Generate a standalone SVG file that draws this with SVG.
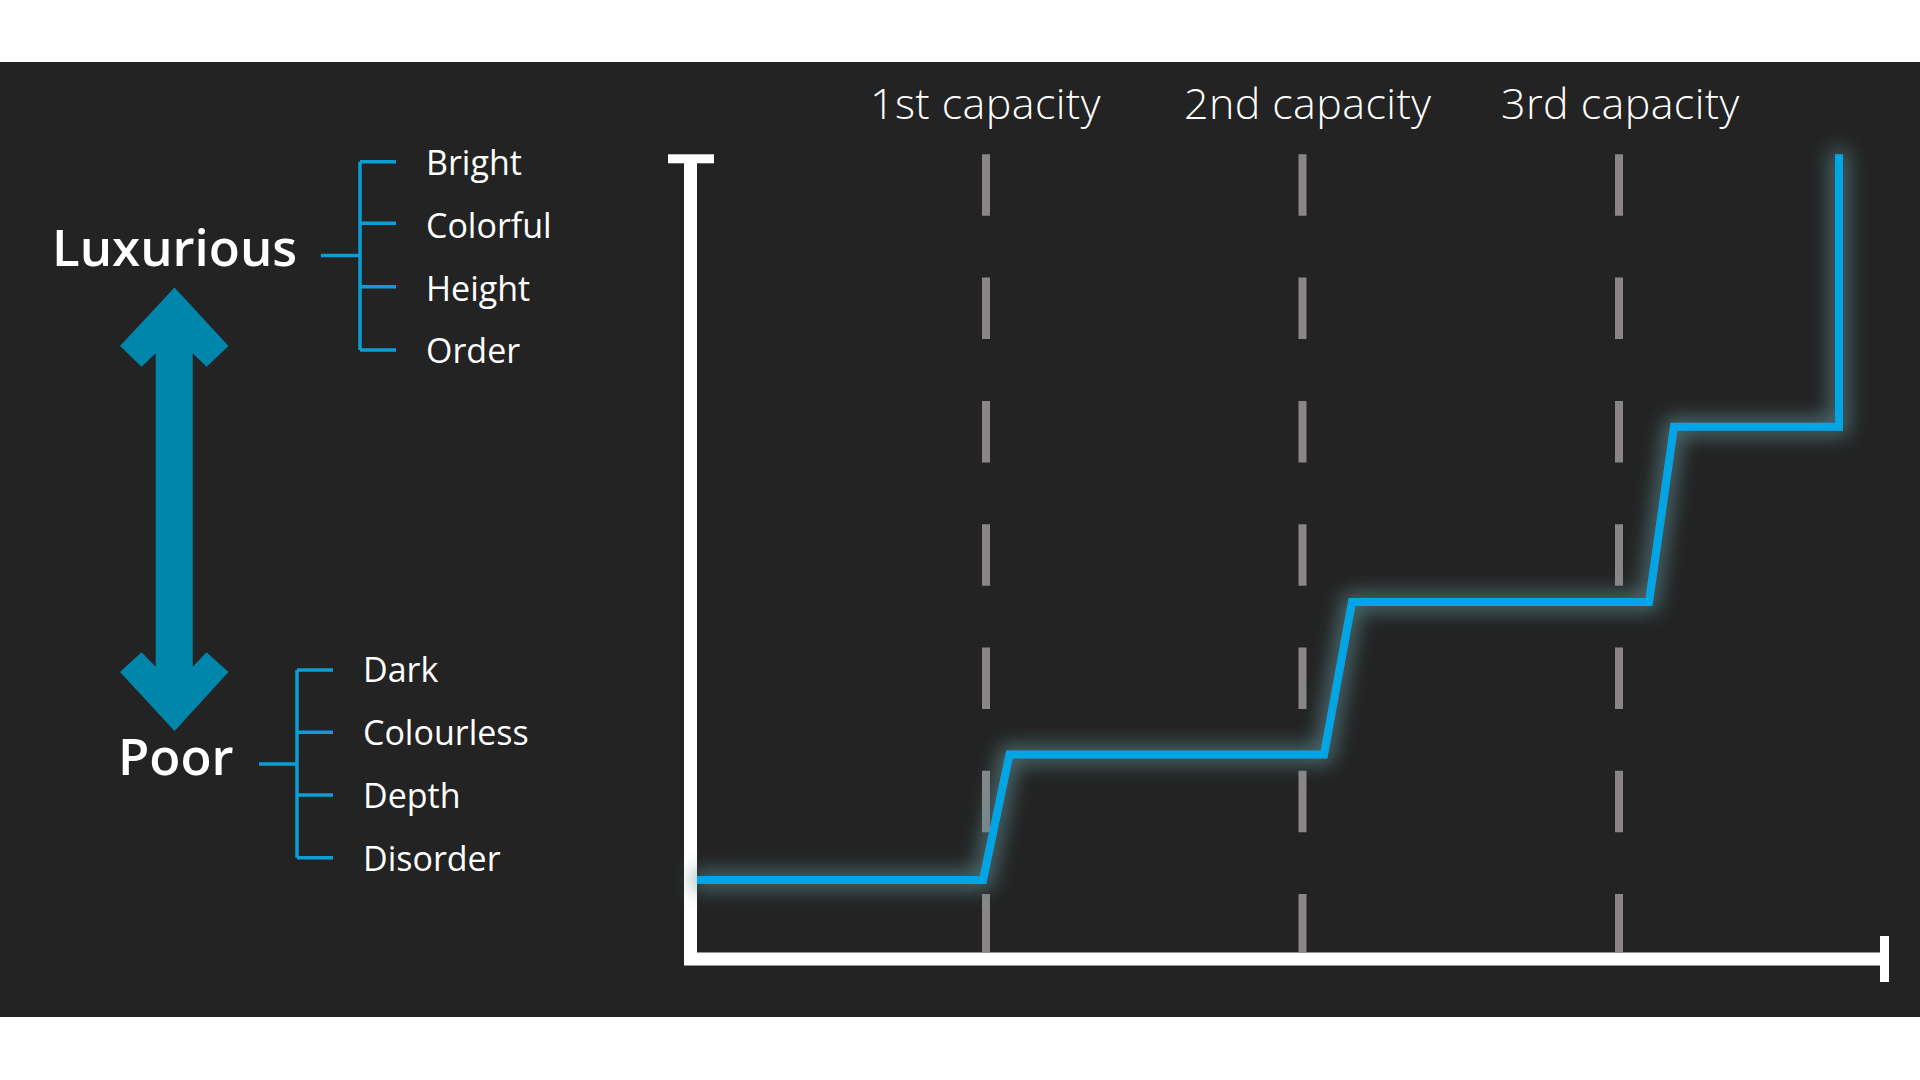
<svg xmlns="http://www.w3.org/2000/svg" width="1920" height="1080" viewBox="0 0 1920 1080">
  <defs>
    <style>
      .lbl { font-family: "Open Sans", "Noto Sans", "Liberation Sans", sans-serif; fill: #ffffff; }
      .big { font-size: 51px; font-weight: 600; }
      .item { font-size: 34px; font-weight: 400; }
      .cap { font-size: 43px; font-weight: 300; letter-spacing: 0.4px; }
      .brk { stroke: #0a9fd4; stroke-width: 3.5; fill: none; }
      .dash { stroke: #8a8686; stroke-width: 8; stroke-dasharray: 61.5 61.8; fill: none; }
      .axis { stroke: #ffffff; stroke-width: 13; fill: none; }
      .step { stroke: #00a5e6; stroke-width: 8; fill: none; stroke-linejoin: miter; }
    </style>
    <filter id="glow" x="-20%" y="-20%" width="140%" height="140%">
      <feMorphology in="SourceAlpha" operator="dilate" radius="4" result="d"/>
      <feGaussianBlur in="d" stdDeviation="10" result="b"/>
      <feFlood flood-color="#5a8a90" flood-opacity="0.8"/>
      <feComposite in2="b" operator="in" result="g"/>
      <feMerge>
        <feMergeNode in="g"/>
        <feMergeNode in="SourceGraphic"/>
      </feMerge>
    </filter>
  </defs>

  <rect x="0" y="0" width="1920" height="1080" fill="#ffffff"/>
  <rect id="panel" x="0" y="62" width="1920" height="955" fill="#232323"/>

  <g id="arrow">
    <polygon fill="#0086ab" points="174.5,287.5 228.5,346 206.5,366.7 192.7,353.3 192.7,666.7 206.5,652.3 228.5,672 174.5,731 120,672 141.5,652.3 155.7,666.7 155.7,353.3 141.5,366.7 120,346"/>
  </g>

  <g id="node-luxurious">
    <text class="lbl big" x="52" y="266">Luxurious</text>
  </g>
  <g id="node-poor">
    <text class="lbl big" x="118" y="775">Poor</text>
  </g>

  <g id="items-luxurious">
    <text class="lbl item" x="426" y="175">Bright</text>
    <text class="lbl item" x="426" y="238">Colorful</text>
    <text class="lbl item" x="426" y="301">Height</text>
    <text class="lbl item" x="426" y="363">Order</text>
  </g>
  <g id="items-poor">
    <text class="lbl item" x="363" y="682">Dark</text>
    <text class="lbl item" x="363" y="745">Colourless</text>
    <text class="lbl item" x="363" y="808">Depth</text>
    <text class="lbl item" x="363" y="871">Disorder</text>
  </g>

  <g id="connectors">
    <path class="brk" d="M321,255.5 H360 M360,161.7 V350 M360,161.7 H396 M360,223.3 H396 M360,286.7 H396 M360,350 H396"/>
    <path class="brk" d="M259,764 H297 M297,670 V857.7 M297,670 H333 M297,732.3 H333 M297,795 H333 M297,857.7 H333"/>
  </g>

  <g id="capacity-labels">
    <text class="lbl cap" x="870" y="119">1st capacity</text>
    <text class="lbl cap" x="1184" y="119">2nd capacity</text>
    <text class="lbl cap" x="1501" y="119">3rd capacity</text>
  </g>

  <g id="capacity-lines">
    <line class="dash" x1="986" y1="154.3" x2="986" y2="952"/>
    <line class="dash" x1="1302.5" y1="154.3" x2="1302.5" y2="952"/>
    <line class="dash" x1="1619" y1="154.3" x2="1619" y2="952"/>
  </g>

  <g id="axes">
    <path class="axis" d="M690.5,158 V959 H1884"/>
    <rect x="668" y="154.3" width="46" height="9" fill="#ffffff"/>
    <rect x="1880" y="936" width="9" height="46" fill="#ffffff"/>
  </g>

  <g id="step-curve">
    <path class="step" filter="url(#glow)" d="M697,880 H983 L1009.5,754.5 H1324 L1352,602 H1649 L1674,426.7 H1839 V154.3"/>
  </g>
</svg>
